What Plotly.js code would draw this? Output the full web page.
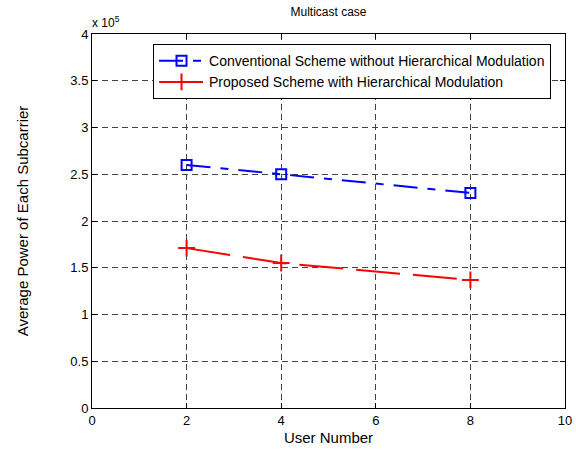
<!DOCTYPE html>
<html>
<head>
<meta charset="utf-8">
<script src="https://cdn.plot.ly/plotly-3.0.1.min.js"></script>
<style>html,body{margin:0;padding:0;background:#fff;}#chart{width:576px;height:450px;}</style>
</head>
<body>
<div id="chart"></div>
<script>
var userNumbers = [2, 4, 8];
var conventionalPower = [260000, 250000, 230000];
var proposedPower = [171000, 155000, 137000];
var conventionalName = 'Conventional Scheme without Hierarchical Modulation';
var proposedName = 'Proposed Scheme with Hierarchical Modulation';
var xTickVals = [0, 2, 4, 6, 8, 10];
var yTickVals = [0, 50000, 100000, 150000, 200000, 250000, 300000, 350000, 400000];
var yTickText = ['0', '0.5', '1', '1.5', '2', '2.5', '3', '3.5', '4'];

var font = 'Liberation Sans, Arial, sans-serif';

var traces = [
  {
    x: userNumbers, y: conventionalPower, name: conventionalName,
    type: 'scatter', mode: 'lines+markers',
    line: {color: '#0000ff', width: 2, dash: '24px,10px,8px,10px'},
    marker: {symbol: 'square-open', size: 10, color: '#0000ff', line: {width: 2, color: '#0000ff'}}
  },
  {
    x: userNumbers, y: proposedPower, name: proposedName,
    type: 'scatter', mode: 'lines+markers',
    line: {color: '#ff0000', width: 2, dash: '44px,13px'},
    marker: {symbol: 'cross-thin-open', size: 12, color: '#ff0000', line: {width: 2, color: '#ff0000'}}
  }
];

var axisCommon = {
  showline: true, linecolor: '#000', linewidth: 1, mirror: 'ticks',
  ticks: 'inside', ticklen: 5, tickcolor: '#000',
  showgrid: true, gridcolor: '#444', gridwidth: 1, griddash: '6px,4px',
  zeroline: false,
  tickfont: {family: font, size: 13, color: '#000'}
};

var layout = {
  width: 576, height: 450,
  margin: {l: 92, r: 11, t: 34, b: 42},
  paper_bgcolor: '#fff', plot_bgcolor: '#fff',
  title: {text: 'Multicast case', font: {family: font, size: 12, color: '#000'},
          x: 0.5, xref: 'paper', y: 0.973, yanchor: 'middle'},
  xaxis: Object.assign({}, axisCommon, {
    range: [0, 10], tickvals: xTickVals, autorange: false,
    title: {text: 'User Number', font: {family: font, size: 15, color: '#000'}, standoff: 5}
  }),
  yaxis: Object.assign({}, axisCommon, {
    range: [0, 400000], tickvals: yTickVals, ticktext: yTickText, autorange: false,
    title: {text: 'Average Power of Each Subcarrier', font: {family: font, size: 15, color: '#000'}, standoff: 38}
  }),
  showlegend: true,
  legend: {
    x: 0.129, xanchor: 'left', y: 0.973, yanchor: 'top',
    bgcolor: '#fff', bordercolor: '#000', borderwidth: 1,
    font: {family: font, size: 14, color: '#000'},
    tracegroupgap: 0, itemwidth: 45
  },
  annotations: [
    {text: 'x 10<sup>5</sup>', xref: 'paper', yref: 'paper', x: 0, y: 1,
     xanchor: 'left', yanchor: 'bottom', showarrow: false, xshift: -2, yshift: 2,
     font: {family: font, size: 12, color: '#000'}}
  ]
};

Plotly.newPlot('chart', traces, layout, {displayModeBar: false, staticPlot: true});
</script>
</body>
</html>
